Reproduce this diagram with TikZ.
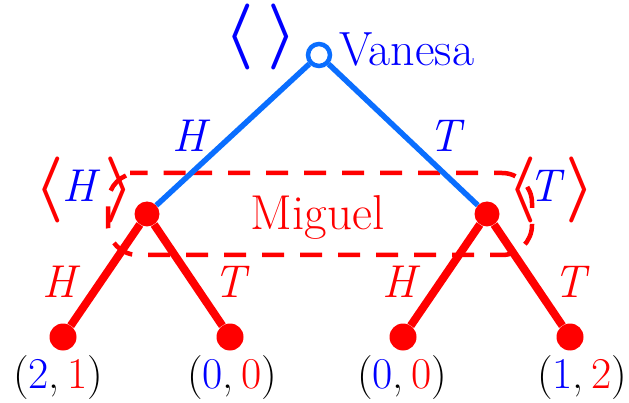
\documentclass[tikz,border=0pt]{standalone}
\usepackage{graphicx}
\definecolor{eblue}{RGB}{10,110,255}
\definecolor{tblue}{RGB}{0,0,255}
\definecolor{tred}{RGB}{255,0,0}
\newcommand{\myLangle}{\scalebox{6.6}{\boldmath$\langle$}}
\newcommand{\myRangle}{\scalebox{6.6}{\boldmath$\rangle$}}
\tikzset{
  bigtxt/.style={font=\fontsize{48}{50}\selectfont, inner sep=0},
  lab/.style={font=\fontsize{46}{48}\selectfont\itshape, inner sep=0, anchor=base},
  pay/.style={font=\fontsize{44}{46}\selectfont, inner sep=0, anchor=base},
  brk/.style={inner sep=0, anchor=center},
  bedge/.style={draw=eblue, line width=5.5},
  redge/.style={draw=tred, line width=8},
  rootnode/.style={circle, draw=eblue, fill=white, line width=4.5, inner sep=0, minimum size=22},
  decnode/.style={circle, fill=tred, inner sep=0, minimum size=25},
  leafnode/.style={circle, fill=tred, inner sep=0, minimum size=27},
  iset/.style={draw=tred, line width=4.5, dash pattern=on 22pt off 16pt, rounded corners=30pt},
}
\begin{document}
\begin{tikzpicture}[x=1pt,y=-1pt]
\useasboundingbox (0,0) rectangle (629,403);
% information set
\draw[iset] (160,173) -- (532,173) -- (532,255) -- (108,255) -- (108,173) -- cycle;
% nodes
\node[rootnode] (root) at (319,55) {};
\node[decnode] (mL) at (147,214) {};
\node[decnode] (mR) at (487,214) {};
\node[leafnode] (l1) at (63,337) {};
\node[leafnode] (l2) at (230,337) {};
\node[leafnode] (l3) at (403,337) {};
\node[leafnode] (l4) at (570,337) {};
% edges
\draw[bedge] (root) -- (mL);
\draw[bedge] (root) -- (mR);
\draw[redge] (mL) -- (l1);
\draw[redge] (mL) -- (l2);
\draw[redge] (mR) -- (l3);
\draw[redge] (mR) -- (l4);
% edge labels
\node[lab, text=tblue] (eH) at (189,152) {H};
\node[lab, text=tblue] (eT) at (445,152) {T};
\node[lab, text=tred] (eLH) at (59,298) {H};
\node[lab, text=tred] (eLT) at (230,298) {T};
\node[lab, text=tred] (eRH) at (399,298) {H};
\node[lab, text=tred] (eRT) at (570,298) {T};
% player names
\node[bigtxt, text=tblue, anchor=base west] (vanesa) at (339,66) {Vanesa};
\node[font=\fontsize{49}{51}\selectfont, inner sep=0, text=tred, anchor=base] (miguel) at (317.5,230) {Miguel};
% histories
\node[brk, text=tblue] (vl) at (239.5,37) {\myLangle};
\node[brk, text=tblue] (vr) at (282.5,37) {\myRangle};
\node[brk, text=tred] (hl) at (49.5,190) {\myLangle};
\node[lab, text=tblue] (hH) at (79,202) {H};
\node[brk, text=tred] (hr) at (119.5,190) {\myRangle};
\node[brk, text=tred] (tl) at (522.5,190) {\myLangle};
\node[lab, text=tblue] (tT) at (545,202) {T};
\node[brk, text=tred] (tr) at (580.5,190) {\myRangle};
% payoffs
\node[pay] (p1) at (58,388) {(\textcolor{tblue}{2},\,\textcolor{tred}{1})};
\node[pay] (p2) at (232,388) {(\textcolor{tblue}{0},\,\textcolor{tred}{0})};
\node[pay] (p3) at (402,388) {(\textcolor{tblue}{0},\,\textcolor{tred}{0})};
\node[pay] (p4) at (582,388) {(\textcolor{tblue}{1},\,\textcolor{tred}{2})};
\end{tikzpicture}
\end{document}
